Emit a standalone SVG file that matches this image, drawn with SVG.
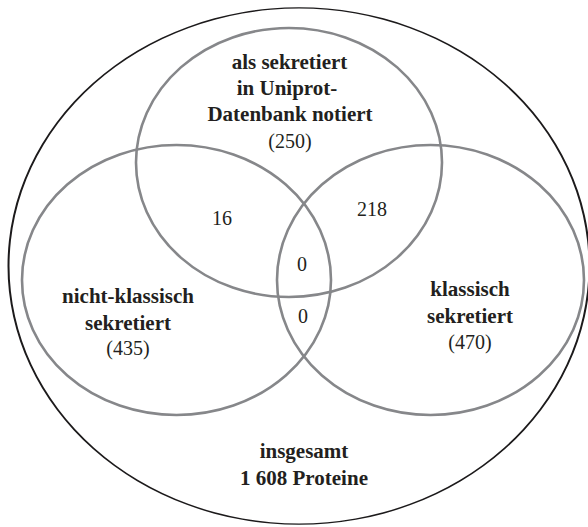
<svg xmlns="http://www.w3.org/2000/svg" width="588" height="527" viewBox="0 0 588 527">
  <style>
    .set { fill: none; stroke: #86878a; stroke-width: 2.6; }
    .ring { fill: #1c1a1b; fill-rule: evenodd; stroke: none; }
    .lbl { fill: #231f20; text-anchor: middle; }
    .name { font-weight: bold; font-size: 21px; }
    .count { font-size: 20px; }
  </style>

  <g font-family="'Liberation Serif', 'DejaVu Serif', serif">
  <!-- universe: all proteins; drawn as a filled ring so the sides are heavier than top and bottom -->
  <g id="universe">
    <path class="ring" d="M 7.5 266 A 291.5 258.8 0 1 0 590.5 266 A 291.5 258.8 0 1 0 7.5 266 Z M 9.5 266 A 289.5 257.4 0 1 1 588.5 266 A 289.5 257.4 0 1 1 9.5 266 Z"/>
    <text class="lbl name" x="304" y="458">insgesamt</text>
    <text class="lbl name" x="304" y="485">1 608 Proteine</text>
  </g>

  <g id="uniprot">
    <ellipse class="set" cx="289" cy="162.5" rx="153" ry="134.5"/>
    <text class="lbl name" x="289.5" y="69">als sekretiert</text>
    <text class="lbl name" x="287" y="95">in Uniprot-</text>
    <text class="lbl name" x="290" y="121">Datenbank notiert</text>
    <text class="lbl count" x="290" y="148">(250)</text>
  </g>

  <g id="non-classical">
    <ellipse class="set" cx="176.5" cy="280" rx="154.5" ry="135"/>
    <text class="lbl name" x="128" y="303">nicht-klassisch</text>
    <text class="lbl name" x="128" y="330">sekretiert</text>
    <text class="lbl count" x="128" y="355">(435)</text>
  </g>

  <g id="classical">
    <ellipse class="set" cx="430.5" cy="280" rx="153.5" ry="135"/>
    <text class="lbl name" x="470" y="296">klassisch</text>
    <text class="lbl name" x="470" y="323">sekretiert</text>
    <text class="lbl count" x="470" y="349">(470)</text>
  </g>

  <!-- overlap counts -->
  <g id="overlaps">
    <text class="lbl count" x="222" y="225">16</text>
    <text class="lbl count" x="372" y="216">218</text>
    <text class="lbl count" x="302" y="271">0</text>
    <text class="lbl count" x="303" y="323">0</text>
  </g>
  </g>
</svg>
